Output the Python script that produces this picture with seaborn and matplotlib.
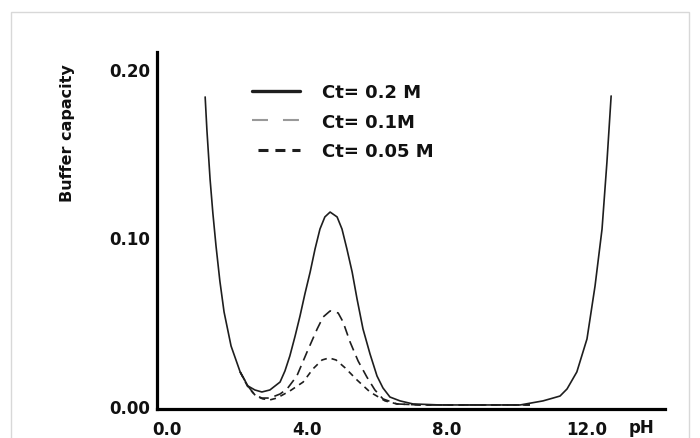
import matplotlib
matplotlib.use("Agg")
import matplotlib.pyplot as plt
import seaborn as sns
import pandas as pd
from matplotlib.lines import Line2D
from matplotlib.patches import Rectangle

# values
ph_02 = [1.09, 1.14, 1.23, 1.31, 1.40, 1.51, 1.63, 1.83, 2.09, 2.31, 2.51, 2.71, 2.94,
         3.23, 3.37, 3.51, 3.66, 3.80, 3.94, 4.09, 4.23, 4.37, 4.51, 4.66, 4.86, 5.00,
         5.14, 5.29, 5.43, 5.60, 5.80, 6.00, 6.17, 6.37, 6.66, 7.03, 7.80, 8.94, 10.09,
         10.74, 11.03, 11.23, 11.43, 11.71, 12.00, 12.23, 12.43, 12.57, 12.69]
buf_02 = [0.1834, 0.1638, 0.1347, 0.1145, 0.0950, 0.0742, 0.0558, 0.0356, 0.0202, 0.0119,
          0.0095, 0.0083, 0.0095, 0.0142, 0.0208, 0.0297, 0.0415, 0.0534, 0.0665, 0.0795,
          0.0932, 0.1050, 0.1122, 0.1151, 0.1122, 0.1050, 0.0932, 0.0795, 0.0635, 0.0457,
          0.0309, 0.0178, 0.0107, 0.0053, 0.0030, 0.0012, 0.0006, 0.0006, 0.0006, 0.0030,
          0.0047, 0.0059, 0.0101, 0.0202, 0.0398, 0.0712, 0.1050, 0.1448, 0.1840]

ph_01 = [2.09, 2.31, 2.51, 2.71, 2.94, 3.23, 3.43, 3.71, 4.00, 4.29, 4.46, 4.66, 4.89,
         5.03, 5.23, 5.46, 5.71, 5.94, 6.17, 6.57, 7.23, 8.94, 10.37]
buf_01 = [0.0202, 0.0119, 0.0065, 0.0047, 0.0047, 0.0071, 0.0101, 0.0178, 0.0320, 0.0457,
          0.0528, 0.0564, 0.0552, 0.0499, 0.0380, 0.0267, 0.0172, 0.0095, 0.0042, 0.0012,
          0.0006, 0.0006, 0.0006]

ph_005 = [2.09, 2.31, 2.54, 2.74, 2.94, 3.14, 3.51, 3.89, 4.17, 4.43, 4.63, 4.83, 5.09,
          5.43, 5.80, 6.23, 6.57, 7.23, 8.94, 10.37]
buf_005 = [0.0202, 0.0113, 0.0059, 0.0042, 0.0036, 0.0047, 0.0089, 0.0142, 0.0220, 0.0273,
           0.0285, 0.0273, 0.0226, 0.0154, 0.0083, 0.0030, 0.0012, 0.0006, 0.0006, 0.0006]

labels = ["Ct= 0.2 M", "Ct= 0.1M", "Ct= 0.05 M"]
x_ticks = [0, 4, 8, 12]
x_tick_labels = ["0.0", "4.0", "8.0", "12.0"]
y_ticks = [0.0, 0.1, 0.2]
y_tick_labels = ["0.00", "0.10", "0.20"]

sns.set_style("white")
plt.rcParams["font.family"] = ["DejaVu Sans"]
plt.rcParams["lines.scale_dashes"] = False

fig = plt.figure(figsize=(7, 4.39), dpi=100)
ax = fig.add_axes([157 / 700, 1 - 410 / 439, 508 / 700, 357 / 439])

ink = "#1e1e1e"
sns.lineplot(x=ph_02, y=buf_02, ax=ax, color=ink, linewidth=1.2, sort=False)
sns.lineplot(x=ph_01, y=buf_01, ax=ax, color=ink, linewidth=1.2, sort=False,
             linestyle=(0, (7.2, 4.3)))
sns.lineplot(x=ph_005, y=buf_005, ax=ax, color=ink, linewidth=1.2, sort=False,
             linestyle=(0, (4.3, 3.6)))

ax.set_xlim(-0.286, 14.229)
ax.set_ylim(-0.0018, 0.2101)
ax.set_xticks(x_ticks)
ax.set_xticklabels(x_tick_labels, fontsize=12, fontweight="bold", color="#111111")
ax.set_yticks(y_ticks)
ax.set_yticklabels(y_tick_labels, fontsize=12, fontweight="bold", color="#111111")
ax.tick_params(axis="both", length=0)
ax.tick_params(axis="x", pad=8)
ax.tick_params(axis="y", pad=5)
for side in ["top", "right"]:
    ax.spines[side].set_visible(False)
for side in ["left", "bottom"]:
    ax.spines[side].set_linewidth(2.3)
    ax.spines[side].set_color("black")

ax.set_ylabel("Buffer capacity", fontsize=11.5, fontweight="bold", color="#111111")
ax.yaxis.set_label_coords((75 - 157) / 508, (410 - 133) / 357)
fig.text(641 / 700, 1 - 428 / 439, "pH", fontsize=12, fontweight="bold",
         color="#111111", ha="center", va="center")

handles = [
    Line2D([], [], color=ink, linewidth=2.4),
    Line2D([], [], color="#999999", linewidth=1.5, linestyle=(0, (11.5, 10.8))),
    Line2D([], [], color=ink, linewidth=2.2, linestyle=(7.9, (7.2, 5.0))),
]
ax.legend(handles, labels, loc="upper left", frameon=False,
          bbox_to_anchor=(252 / 700, 1 - 84 / 439), bbox_transform=fig.transFigure,
          prop={"size": 13, "weight": "bold"}, handlelength=2.66, handletextpad=1.22,
          labelspacing=0.65, borderpad=0, borderaxespad=0, labelcolor="#111111")

fig.patches.append(Rectangle((11 / 700, -0.1), 678 / 700, 1.1 - 13 / 439,
                             transform=fig.transFigure, fill=False,
                             edgecolor="#d8d8d8", linewidth=1))

fig.savefig("out.png", dpi=100)
